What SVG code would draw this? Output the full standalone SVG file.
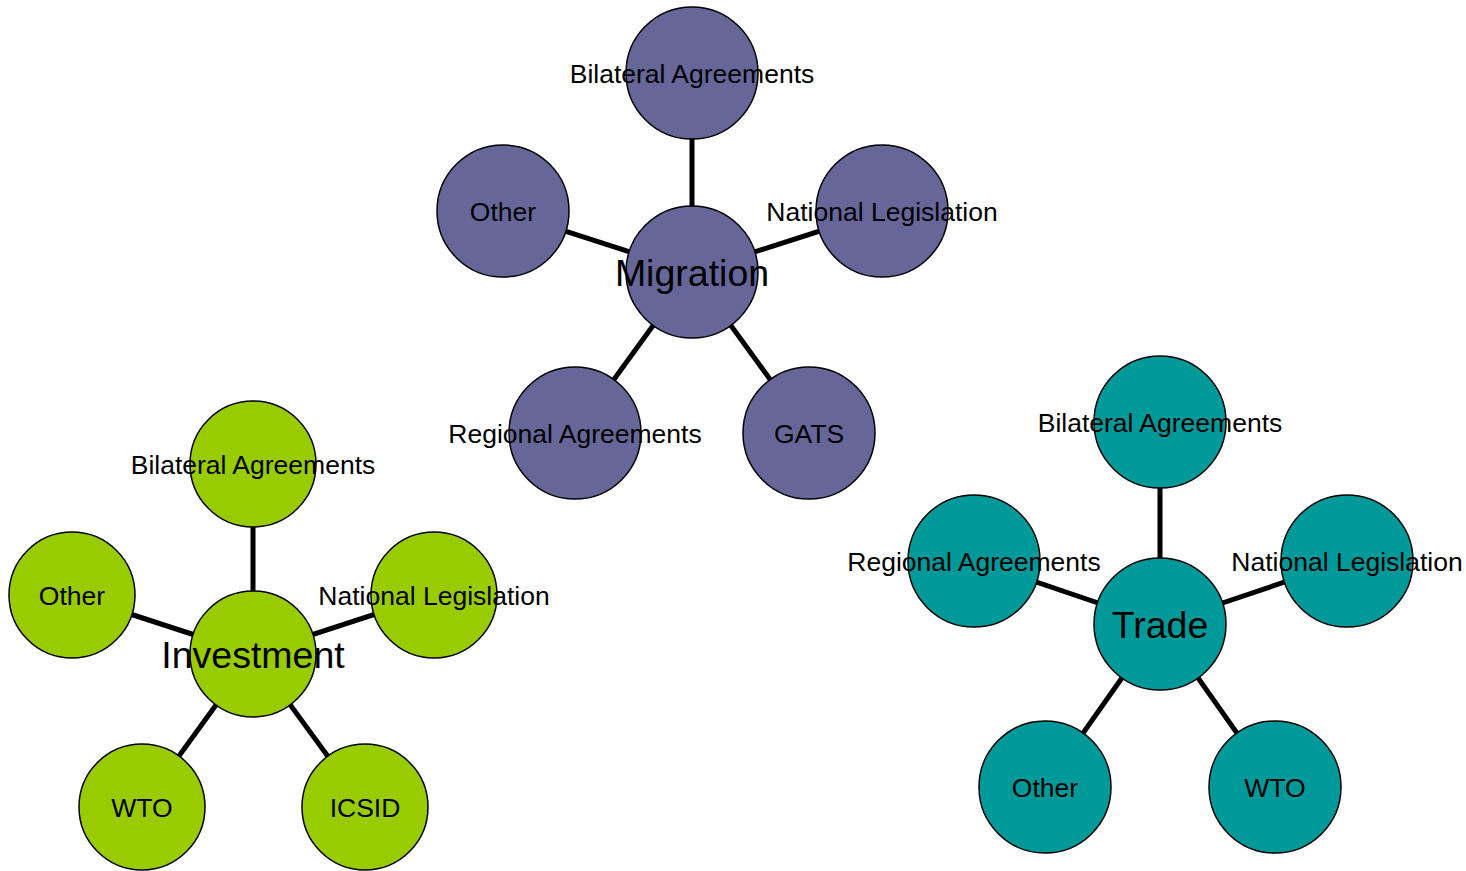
<svg xmlns="http://www.w3.org/2000/svg" width="1466" height="871" viewBox="0 0 1466 871">
<style>
.edge{stroke:#000;stroke-width:5;fill:none}
circle{stroke:#000;stroke-width:1.5}
.mig{fill:#666699}
.inv{fill:#99CC00}
.trd{fill:#009999}
text{font-family:"Liberation Sans",Arial,sans-serif;fill:#000;text-anchor:middle}
.s{font-size:26.5px}
.b{font-size:37.5px}
</style>
<rect width="1466" height="871" fill="#fff"/>
<g id="connectors">
<line class="edge" x1="692" y1="272" x2="692" y2="73"/>
<line class="edge" x1="692" y1="272" x2="503" y2="211"/>
<line class="edge" x1="692" y1="272" x2="882" y2="211"/>
<line class="edge" x1="692" y1="272" x2="575" y2="433"/>
<line class="edge" x1="692" y1="272" x2="809" y2="433"/>
<line class="edge" x1="253" y1="654" x2="253" y2="464"/>
<line class="edge" x1="253" y1="654" x2="72" y2="595"/>
<line class="edge" x1="253" y1="654" x2="434" y2="595"/>
<line class="edge" x1="253" y1="654" x2="142" y2="807"/>
<line class="edge" x1="253" y1="654" x2="365" y2="807"/>
<line class="edge" x1="1160" y1="624" x2="1160" y2="422"/>
<line class="edge" x1="1160" y1="624" x2="974" y2="561"/>
<line class="edge" x1="1160" y1="624" x2="1347" y2="561"/>
<line class="edge" x1="1160" y1="624" x2="1045" y2="787"/>
<line class="edge" x1="1160" y1="624" x2="1275" y2="787"/>
</g>
<g id="mig-bilateral"><circle class="mig" cx="692" cy="73" r="66"/><text class="s" x="692" y="82.5">Bilateral Agreements</text></g>
<g id="mig-other"><circle class="mig" cx="503" cy="211" r="66"/><text class="s" x="503" y="220.5">Other</text></g>
<g id="mig-national"><circle class="mig" cx="882" cy="211" r="66"/><text class="s" x="882" y="220.5">National Legislation</text></g>
<g id="mig-regional"><circle class="mig" cx="575" cy="433" r="66"/><text class="s" x="575" y="442.5">Regional Agreements</text></g>
<g id="mig-gats"><circle class="mig" cx="809" cy="433" r="66"/><text class="s" x="809" y="442.5">GATS</text></g>
<g id="migration"><circle class="mig" cx="692" cy="272" r="66"/><text class="b" x="692" y="285.5">Migration</text></g>

<g id="inv-bilateral"><circle class="inv" cx="253" cy="464" r="63"/><text class="s" x="253" y="473.5">Bilateral Agreements</text></g>
<g id="inv-other"><circle class="inv" cx="72" cy="595" r="63"/><text class="s" x="72" y="604.5">Other</text></g>
<g id="inv-national"><circle class="inv" cx="434" cy="595" r="63"/><text class="s" x="434" y="604.5">National Legislation</text></g>
<g id="inv-wto"><circle class="inv" cx="142" cy="807" r="63"/><text class="s" x="142" y="816.5">WTO</text></g>
<g id="inv-icsid"><circle class="inv" cx="365" cy="807" r="63"/><text class="s" x="365" y="816.5">ICSID</text></g>
<g id="investment"><circle class="inv" cx="253" cy="654" r="63"/><text class="b" x="253" y="668">Investment</text></g>

<g id="trd-bilateral"><circle class="trd" cx="1160" cy="422" r="66"/><text class="s" x="1160" y="431.5">Bilateral Agreements</text></g>
<g id="trd-regional"><circle class="trd" cx="974" cy="561" r="66"/><text class="s" x="974" y="570.5">Regional Agreements</text></g>
<g id="trd-national"><circle class="trd" cx="1347" cy="561" r="66"/><text class="s" x="1347" y="570.5">National Legislation</text></g>
<g id="trd-other"><circle class="trd" cx="1045" cy="787" r="66"/><text class="s" x="1045" y="796.5">Other</text></g>
<g id="trd-wto"><circle class="trd" cx="1275" cy="787" r="66"/><text class="s" x="1275" y="796.5">WTO</text></g>
<g id="trade"><circle class="trd" cx="1160" cy="624" r="66"/><text class="b" x="1160" y="637.5">Trade</text></g>
</svg>
